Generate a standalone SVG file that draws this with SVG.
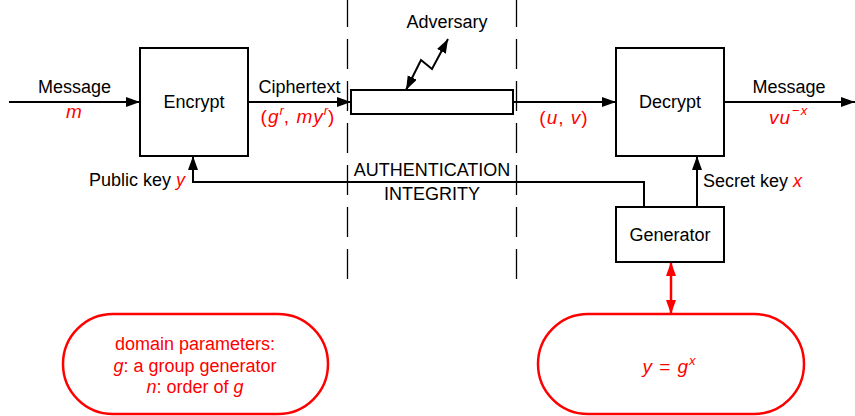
<svg xmlns="http://www.w3.org/2000/svg" width="855" height="416" viewBox="0 0 855 416">
  <defs>
    <marker id="ah" markerUnits="userSpaceOnUse" markerWidth="16" markerHeight="12" refX="14" refY="5" orient="auto-start-reverse">
      <path d="M0,0 L14,5 L0,10 Z" fill="#000"/>
    </marker>
    <marker id="ahr" markerUnits="userSpaceOnUse" markerWidth="16" markerHeight="12" refX="14" refY="5" orient="auto-start-reverse">
      <path d="M0,0 L14,5 L0,10 Z" fill="#ff0000"/>
    </marker>
    <style>
      text { font-family: "Liberation Sans", Arial, sans-serif; font-size: 18px; fill: #000; }
      .red { fill: #ff0000; }
      .it { font-style: italic; }
      .math { font-size: 19px; letter-spacing: 1px; }
      .sup { font-size: 13px; letter-spacing: 0; }
      .mid { text-anchor: middle; }
      .box { fill: #fff; stroke: #000; stroke-width: 2; }
      .line { fill: none; stroke: #000; stroke-width: 2; }
      .dash { fill: none; stroke: #000; stroke-width: 1.3; stroke-dasharray: 30 12; }
      .pill { fill: none; stroke: #ff0000; stroke-width: 2.5; }
    </style>
  </defs>

  <!-- trust boundary of the channel -->
  <g id="boundaries">
    <line class="dash" x1="347.5" y1="-3" x2="347.5" y2="282"/>
    <line class="dash" x1="516.5" y1="-3" x2="516.5" y2="282"/>
  </g>

  <g id="connectors">
    <line class="line" x1="9" y1="102" x2="140" y2="102" marker-end="url(#ah)"/>
    <line class="line" x1="248" y1="102" x2="351" y2="102" marker-end="url(#ah)"/>
    <line class="line" x1="513" y1="102" x2="616" y2="102" marker-end="url(#ah)"/>
    <line class="line" x1="724" y1="102" x2="855" y2="102" marker-end="url(#ah)"/>
    <!-- public key back to the encryptor -->
    <polyline class="line" points="644,207 644,182 193,182 193,156" marker-end="url(#ah)"/>
    <!-- secret key to the decryptor -->
    <line class="line" x1="697" y1="207" x2="697" y2="156" marker-end="url(#ah)"/>
    <!-- adversary access -->
    <polyline class="line" points="406,90 421,60 432,69 448,39" marker-start="url(#ah)" marker-end="url(#ah)"/>
    <!-- generator and key relation -->
    <line stroke="#ff0000" stroke-width="2.5" x1="671" y1="262" x2="671" y2="314" marker-start="url(#ahr)" marker-end="url(#ahr)"/>
  </g>

  <g id="encrypt">
    <rect class="box" x="140" y="48" width="108" height="108"/>
    <text class="mid" x="194" y="108">Encrypt</text>
  </g>

  <g id="channel">
    <rect class="box" x="351" y="90" width="162" height="24"/>
  </g>

  <g id="decrypt">
    <rect class="box" x="616" y="48" width="108" height="108"/>
    <text class="mid" x="670" y="108">Decrypt</text>
  </g>

  <g id="generator">
    <rect class="box" x="616" y="207" width="108" height="55"/>
    <text class="mid" x="670" y="241">Generator</text>
  </g>

  <g id="domain-parameters">
    <rect class="pill" x="63" y="314" width="265" height="100" rx="50" ry="50"/>
    <text class="mid red" x="195" y="350">domain parameters:</text>
    <text class="mid red" x="195" y="372"><tspan class="it">g</tspan>: a group generator</text>
    <text class="mid red" x="195" y="393"><tspan class="it">n</tspan>: order of <tspan class="it">g</tspan></text>
  </g>

  <g id="key-relation">
    <rect class="pill" x="538" y="314" width="266" height="100" rx="50" ry="50"/>
    <text class="mid red math" x="669" y="373"><tspan class="it">y</tspan> = <tspan class="it">g</tspan><tspan class="it sup" dy="-8">x</tspan></text>
  </g>

  <g id="labels">
    <text class="mid" x="74.5" y="93">Message</text>
    <text class="mid red it math" x="74.5" y="118">m</text>
    <text class="mid" x="299.5" y="93">Ciphertext</text>
    <text class="mid red math" x="298" y="123">(<tspan class="it">g</tspan><tspan class="it sup" dy="-8">r</tspan><tspan dy="8">, </tspan><tspan class="it">my</tspan><tspan class="it sup" dy="-8">r</tspan><tspan dy="8">)</tspan></text>
    <text class="mid" x="447" y="28">Adversary</text>
    <text class="mid" x="432" y="176">AUTHENTICATION</text>
    <text class="mid" x="432" y="200">INTEGRITY</text>
    <text x="89" y="186">Public key <tspan class="red it">y</tspan></text>
    <text class="mid red math" x="564" y="124">(<tspan class="it">u</tspan>, <tspan class="it">v</tspan>)</text>
    <text class="mid" x="789" y="93">Message</text>
    <text class="red math" x="769" y="124"><tspan class="it">vu</tspan><tspan class="sup" dy="-9" dx="1">−</tspan><tspan class="it sup" dx="1">x</tspan></text>
    <text x="703" y="187">Secret key <tspan class="red it">x</tspan></text>
  </g>
</svg>
